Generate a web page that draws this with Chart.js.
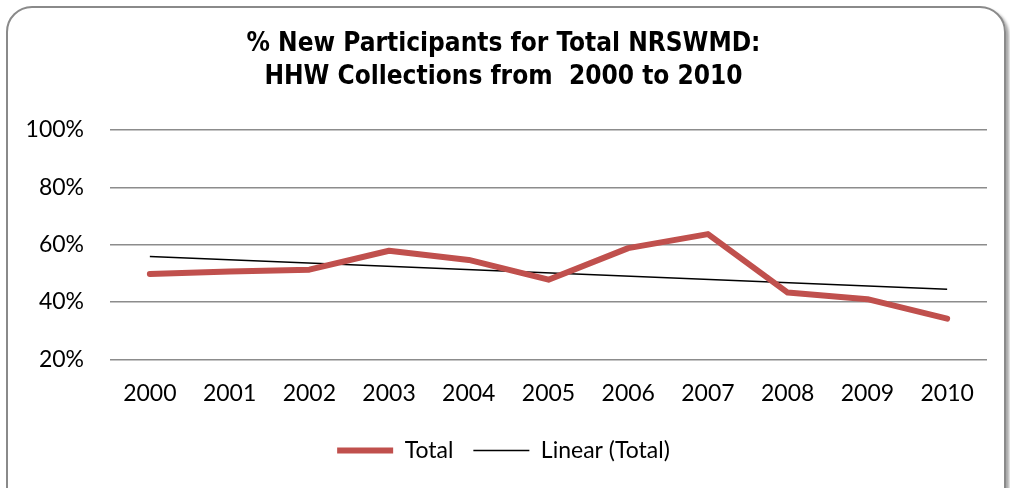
<!DOCTYPE html>
<html>
<head>
<meta charset="utf-8">
<script src="https://cdn.jsdelivr.net/npm/chart.js@4.4.0/dist/chart.umd.min.js"></script>
<style>
  html, body { margin: 0; padding: 0; background: #fff; }
  #wrap { position: relative; width: 1010px; height: 488px; overflow: hidden; }
  #frame {
    position: absolute; left: 6px; top: 6px; width: 996px; height: 520px;
    border: 2px solid #8a8a8a; border-radius: 26px;
    box-shadow: 3px 3px 3px rgba(0,0,0,0.35);
    pointer-events: none;
  }
  canvas { position: absolute; left: 0; top: 0; }
</style>
</head>
<body>
<div id="wrap">
  <div id="frame"></div>
  <canvas id="chart" width="1010" height="488"></canvas>
</div>
<script>
// ====================== Data ======================
const years = ['2000', '2001', '2002', '2003', '2004', '2005', '2006', '2007', '2008', '2009', '2010'];
const totalPct = [49.8, 50.7, 51.3, 57.9, 54.7, 47.8, 58.8, 63.7, 43.3, 41.0, 34.2];
// trendline (only ends, straight line between)
const trendPct = [55.9, null, null, null, null, null, null, null, null, null, 44.5];
const yTicks = [20, 40, 60, 80, 100];

const titleLines = ['% New Participants for Total NRSWMD:', 'HHW Collections from  2000 to 2010'];
const tickFont = { family: 'Lato, "Open Sans", sans-serif', size: 23 };

// ====================== Chart ======================
const ctx = document.getElementById('chart').getContext('2d');
new Chart(ctx, {
  type: 'line',
  data: {
    labels: years,
    datasets: [
      {
        label: 'Total',
        data: totalPct,
        borderColor: '#c0504d',
        backgroundColor: '#c0504d',
        borderWidth: 6,
        borderCapStyle: 'round',
        borderJoinStyle: 'round',
        pointRadius: 0,
        pointStyle: 'line',
        tension: 0
      },
      {
        label: 'Linear (Total)',
        data: trendPct,
        borderColor: '#000',
        backgroundColor: '#000',
        borderWidth: 1.5,
        pointRadius: 0,
        pointStyle: 'line',
        spanGaps: true
      }
    ]
  },
  options: {
    responsive: false,
    animation: false,
    layout: { padding: { left: 20, right: 23, top: 28, bottom: 16 } },
    plugins: {
      title: {
        display: true,
        text: titleLines,
        color: '#000',
        font: { family: '"DejaVu Sans Condensed", "DejaVu Sans", sans-serif', size: 26, weight: 'bold', lineHeight: 1.27 },
        padding: { top: 0, bottom: 36 }
      },
      legend: {
        position: 'bottom',
        labels: {
          color: '#000',
          font: tickFont,
          usePointStyle: true,
          pointStyleWidth: 56,
          boxHeight: 10,
          padding: 20
        }
      },
      tooltip: { enabled: false }
    },
    scales: {
      x: {
        offset: true,
        grid: { display: false },
        border: { display: false },
        ticks: { color: '#000', font: tickFont, padding: 12, maxRotation: 0 }
      },
      y: {
        min: 20,
        max: 100,
        afterBuildTicks: (scale) => { scale.ticks = yTicks.map(v => ({ value: v })); },
        afterFit: (scale) => { scale.width = 90; },
        grid: { color: '#8c8c8c', lineWidth: 1.5, drawTicks: false },
        border: { display: false },
        ticks: { color: '#000', font: tickFont, padding: 26, callback: v => v + '%' }
      }
    }
  }
});
</script>
</body>
</html>
